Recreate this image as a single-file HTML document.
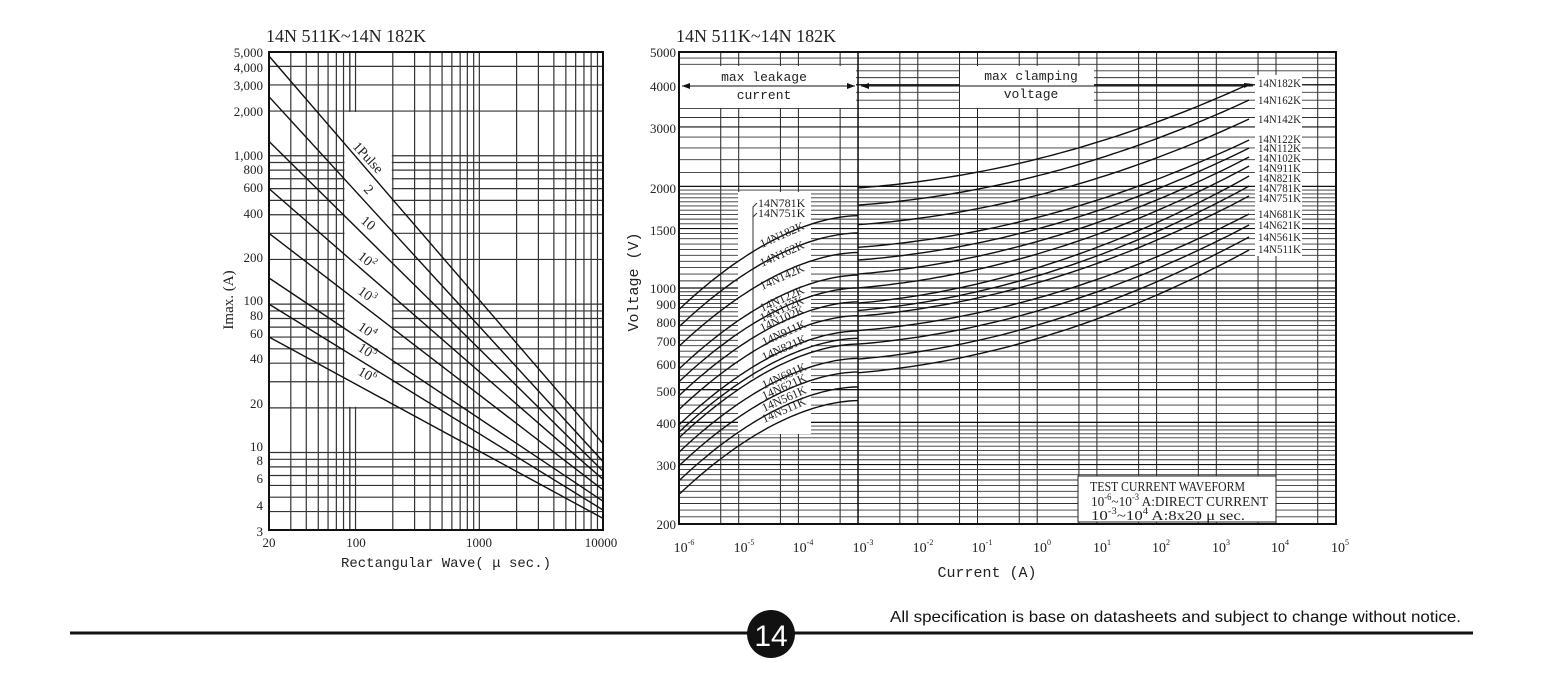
<!DOCTYPE html>
<html><head><meta charset="utf-8">
<style>
html,body{margin:0;padding:0;background:#fff;}
svg{display:block}
.s{font-family:"Liberation Serif",serif;fill:#222;}
.m{font-family:"Liberation Mono",monospace;fill:#222;}
</style></head>
<body>
<svg id="svg" width="1548" height="693" viewBox="0 0 1548 693" xmlns="http://www.w3.org/2000/svg">
<g id="L"></g>
<g id="R"></g>
<text class="s" x="266" y="42" font-size="18">14N 511K~14N 182K</text>
<g class="s" font-size="13" text-anchor="end">
<text x="263" y="57">5,000</text><text x="263" y="72">4,000</text><text x="263" y="90">3,000</text>
<text x="263" y="116">2,000</text><text x="263" y="160">1,000</text><text x="263" y="174">800</text>
<text x="263" y="192">600</text><text x="263" y="218">400</text><text x="263" y="262">200</text>
<text x="263" y="305">100</text><text x="263" y="320">80</text><text x="263" y="338">60</text>
<text x="263" y="363">40</text><text x="263" y="408">20</text><text x="263" y="451">10</text>
<text x="263" y="465">8</text><text x="263" y="483">6</text><text x="263" y="510">4</text>
<text x="263" y="536">3</text>
</g>
<g class="s" font-size="13" text-anchor="middle">
<text x="269" y="547">20</text><text x="356" y="547">100</text><text x="479" y="547">1000</text><text x="601" y="547">10000</text>
</g>
<text class="m" x="446" y="567" font-size="14" text-anchor="middle">Rectangular Wave( μ  sec.)</text>
<text class="s" x="233" y="300" font-size="15" text-anchor="middle" transform="rotate(-90 233 300)">Imax. (A)</text>
<g class="s" font-size="14">
<text transform="translate(352,147) rotate(47)">1Pulse</text>
<text transform="translate(363,190) rotate(47)">2</text>
<text transform="translate(360,222) rotate(40)">10</text>
<text transform="translate(357,258) rotate(38)">10<tspan font-size="9" dy="-6">2</tspan></text>
<text transform="translate(357,293) rotate(36)">10<tspan font-size="9" dy="-6">3</tspan></text>
<text transform="translate(357,329) rotate(34)">10<tspan font-size="9" dy="-6">4</tspan></text>
<text transform="translate(357,350) rotate(32)">10<tspan font-size="9" dy="-6">5</tspan></text>
<text transform="translate(357,374) rotate(30)">10<tspan font-size="9" dy="-6">6</tspan></text>
</g>
<text class="s" x="676" y="42" font-size="18">14N 511K~14N 182K</text>
<g class="s" font-size="13" text-anchor="end">
<text x="676" y="57">5000</text><text x="676" y="91">4000</text><text x="676" y="133">3000</text>
<text x="676" y="193">2000</text><text x="676" y="235">1500</text><text x="676" y="293">1000</text>
<text x="676" y="309">900</text><text x="676" y="327">800</text><text x="676" y="346">700</text>
<text x="676" y="369">600</text><text x="676" y="396">500</text><text x="676" y="428">400</text>
<text x="676" y="470">300</text><text x="676" y="529">200</text>
</g>
<g class="s" font-size="14" text-anchor="middle">
<text x="684" y="552">10<tspan font-size="8" dy="-7">-6</tspan></text>
<text x="744" y="552">10<tspan font-size="8" dy="-7">-5</tspan></text>
<text x="803" y="552">10<tspan font-size="8" dy="-7">-4</tspan></text>
<text x="863" y="552">10<tspan font-size="8" dy="-7">-3</tspan></text>
<text x="923" y="552">10<tspan font-size="8" dy="-7">-2</tspan></text>
<text x="982" y="552">10<tspan font-size="8" dy="-7">-1</tspan></text>
<text x="1042" y="552">10<tspan font-size="8" dy="-7">0</tspan></text>
<text x="1102" y="552">10<tspan font-size="8" dy="-7">1</tspan></text>
<text x="1161" y="552">10<tspan font-size="8" dy="-7">2</tspan></text>
<text x="1221" y="552">10<tspan font-size="8" dy="-7">3</tspan></text>
<text x="1280" y="552">10<tspan font-size="8" dy="-7">4</tspan></text>
<text x="1340" y="552">10<tspan font-size="8" dy="-7">5</tspan></text>
</g>
<text class="m" x="987" y="577" font-size="15" text-anchor="middle">Current (A)</text>
<text class="m" x="638" y="282" font-size="15" text-anchor="middle" transform="rotate(-90 638 282)">Voltage (V)</text>
<g class="m" font-size="13" text-anchor="middle">
<text x="764" y="81">max leakage</text><text x="764" y="99">current</text>
<text x="1031" y="80">max clamping</text><text x="1031" y="98">voltage</text>
</g>
<g class="s" font-size="14">
<text x="1090" y="491" textLength="155" lengthAdjust="spacingAndGlyphs">TEST CURRENT WAVEFORM</text>
<text x="1091" y="506" textLength="177" lengthAdjust="spacingAndGlyphs">10<tspan font-size="9" dy="-6">-6</tspan><tspan dy="6">~10</tspan><tspan font-size="9" dy="-6">-3</tspan><tspan dy="6"> A:DIRECT CURRENT</tspan></text>
<text x="1091" y="520" textLength="154" lengthAdjust="spacingAndGlyphs">10<tspan font-size="9" dy="-6">-3</tspan><tspan dy="6">~10</tspan><tspan font-size="9" dy="-6">4</tspan><tspan dy="6"> A:8x20  μ sec.</tspan></text>
</g>
<g class="s" font-size="12">
<text x="1258" y="87" textLength="43" lengthAdjust="spacingAndGlyphs">14N182K</text>
<text x="1258" y="104" textLength="43" lengthAdjust="spacingAndGlyphs">14N162K</text>
<text x="1258" y="123" textLength="43" lengthAdjust="spacingAndGlyphs">14N142K</text>
<text x="1258" y="143" textLength="43" lengthAdjust="spacingAndGlyphs">14N122K</text>
<text x="1258" y="152" textLength="43" lengthAdjust="spacingAndGlyphs">14N112K</text>
<text x="1258" y="162" textLength="43" lengthAdjust="spacingAndGlyphs">14N102K</text>
<text x="1258" y="172" textLength="43" lengthAdjust="spacingAndGlyphs">14N911K</text>
<text x="1258" y="182" textLength="43" lengthAdjust="spacingAndGlyphs">14N821K</text>
<text x="1258" y="192" textLength="43" lengthAdjust="spacingAndGlyphs">14N781K</text>
<text x="1258" y="202" textLength="43" lengthAdjust="spacingAndGlyphs">14N751K</text>
<text x="1258" y="218" textLength="43" lengthAdjust="spacingAndGlyphs">14N681K</text>
<text x="1258" y="229" textLength="43" lengthAdjust="spacingAndGlyphs">14N621K</text>
<text x="1258" y="241" textLength="43" lengthAdjust="spacingAndGlyphs">14N561K</text>
<text x="1258" y="253" textLength="43" lengthAdjust="spacingAndGlyphs">14N511K</text>
</g>
<g class="s" font-size="12">
<text x="758" y="207">14N781K</text>
<text x="758" y="217">14N751K</text>
<text transform="translate(762,248) rotate(-24)">14N182K</text>
<text transform="translate(762,267) rotate(-24)">14N162K</text>
<text transform="translate(762,290) rotate(-24)">14N142K</text>
<text transform="translate(762,312) rotate(-24)">14N122K</text>
<text transform="translate(762,322) rotate(-24)">14N112K</text>
<text transform="translate(762,332) rotate(-24)">14N102K</text>
<text transform="translate(764,346) rotate(-24)">14N911K</text>
<text transform="translate(764,361) rotate(-24)">14N821K</text>
<text transform="translate(764,389) rotate(-24)">14N681K</text>
<text transform="translate(764,400) rotate(-24)">14N621K</text>
<text transform="translate(764,412) rotate(-24)">14N561K</text>
<text transform="translate(764,423) rotate(-24)">14N511K</text>
</g>
<line x1="70" y1="633" x2="1473" y2="633" stroke="#111" stroke-width="3"/>
<circle cx="771" cy="634" r="24" fill="#111"/>
<text x="771" y="646" font-family="Liberation Sans, sans-serif" font-size="30" fill="#fff" text-anchor="middle">14</text>
<text x="890" y="622" font-family="Liberation Sans, sans-serif" font-size="16" fill="#111" textLength="571" lengthAdjust="spacingAndGlyphs">All specification is base on datasheets and subject to change without notice.</text>
</svg>
<script>
var NS="http://www.w3.org/2000/svg";
function el(p,t,a){var e=document.createElementNS(NS,t);for(var k in a)e.setAttribute(k,a[k]);p.appendChild(e);return e;}
var L=document.getElementById("L"),R=document.getElementById("R");
var lg=Math.log10;
function lx(v){return 269+123.8*lg(v/20);}
function ly(v){return 52+148.4*lg(5000/v);}
var xs=[30,40,50,60,70,80,90,200,300,400,500,600,700,800,900,1000,2000,3000,4000,5000,6000,7000,8000,9000,100];
xs.forEach(function(v){el(L,"line",{x1:lx(v),x2:lx(v),y1:52,y2:530,stroke:"#333","stroke-width":1.2});});
var ys=[4000,3000,2000,1000,900,800,700,600,500,400,300,200,100,90,80,70,60,50,40,30,20,10,9,8,7,6,5,4];
ys.forEach(function(v){el(L,"line",{x1:269,x2:603,y1:ly(v),y2:ly(v),stroke:"#333","stroke-width":1.2});});
el(L,"rect",{x:lx(80)+1,y:ly(2000)+1,width:lx(200)-lx(80)-2,height:ly(20)-ly(2000)-2,fill:"#fff"});
el(L,"line",{x1:lx(90),x2:lx(90),y1:52,y2:ly(2000),stroke:"#333","stroke-width":1.2});
el(L,"line",{x1:lx(90),x2:lx(90),y1:ly(20),y2:530,stroke:"#333","stroke-width":1.2});
el(L,"rect",{x:269,y:52,width:334,height:478,fill:"none",stroke:"#111","stroke-width":2});
[[4700,11.5],[2500,8.7],[1250,7.5],[600,6.6],[300,5.6],[150,4.7],[100,4.1],[60,3.6]].forEach(function(p){
 el(L,"line",{x1:269,y1:ly(p[0]),x2:603,y2:ly(p[1]),stroke:"#111","stroke-width":1.4});});
function rx(e){return 679+59.7*(e+6);}
function ry(v){return 524-337.6*lg(v/200);}
for(var d=-6;d<5;d++){ if(d>-6) el(R,"line",{x1:rx(d),x2:rx(d),y1:52,y2:524,stroke:"#222","stroke-width":1});
 el(R,"line",{x1:rx(d+lg(5)),x2:rx(d+lg(5)),y1:52,y2:524,stroke:"#222","stroke-width":1});}
var hv=[];
for(var v=210;v<400;v+=10)hv.push(v);
for(var v=400;v<1000;v+=25)hv.push(v);
for(var v=1000;v<2000;v+=50)hv.push(v);
for(var v=2000;v<5000;v+=200)hv.push(v);
hv.forEach(function(v){el(R,"line",{x1:679,x2:1336,y1:ry(v),y2:ry(v),stroke:"#333","stroke-width":0.9});});
[1000,1500,2000,3000,4000,300,400,500].forEach(function(v){el(R,"line",{x1:679,x2:1336,y1:ry(v),y2:ry(v),stroke:"#111","stroke-width":1.2});});
el(R,"rect",{x:680,y:66,width:176,height:42,fill:"#fff"});
el(R,"rect",{x:960,y:66,width:134,height:42,fill:"#fff"});
el(R,"rect",{x:738,y:192,width:73,height:242,fill:"#fff"});
el(R,"rect",{x:1255,y:75,width:47,height:181,fill:"#fff"});
el(R,"rect",{x:1078,y:476,width:198,height:46,fill:"#fff",stroke:"#222","stroke-width":1});
el(R,"line",{x1:858,x2:858,y1:52,y2:524,stroke:"#111","stroke-width":1.5});
el(R,"line",{x1:682,x2:855,y1:86,y2:86,stroke:"#111","stroke-width":1});
el(R,"path",{d:"M682,86 l8,-3 v6z M855,86 l-8,-3 v6z M861,86 l8,-3 v6z M1253,84 l-9,-1 v5z",fill:"#111"});
el(R,"line",{x1:861,x2:1253,y1:86,y2:86,stroke:"#111","stroke-width":1});
el(R,"path",{d:"M757,203 l-4,4 V378 M757,213 l-4,4 V370",fill:"none",stroke:"#333","stroke-width":1});
var noms=[1800,1600,1400,1200,1100,1000,910,820,780,750,680,620,560,510];
var ends=[84,100,119,140,148,157,166,176,186,196,214,225,237,250];
noms.forEach(function(n,i){
 var s0=lg(0.48*n),s1=lg(0.91*n),d="";
 for(var k=0;k<=40;k++){var t=k/40,f=1-Math.pow(1-t,1.8);var x=rx(-6+3*t),y=ry(Math.pow(10,s0+(s1-s0)*f));d+=(k?"L":"M")+x.toFixed(1)+","+y.toFixed(1);}
 el(R,"path",{d:d,fill:"none",stroke:"#111","stroke-width":1.4});
 var a0=lg(1.1*n),ye=ends[i],a1=lg(200)+(524-ye)/337.6,dd="";
 for(var k=0;k<=60;k++){var t=k/60,f=0.275*t+0.725*t*t;var x=rx(-3+6.55*t),y=ry(Math.pow(10,a0+(a1-a0)*f));dd+=(k?"L":"M")+x.toFixed(1)+","+y.toFixed(1);}
 el(R,"path",{d:dd,fill:"none",stroke:"#111","stroke-width":1.4});
});
el(R,"rect",{x:679,y:52,width:657,height:472,fill:"none",stroke:"#111","stroke-width":2});
</script>
</body></html>
